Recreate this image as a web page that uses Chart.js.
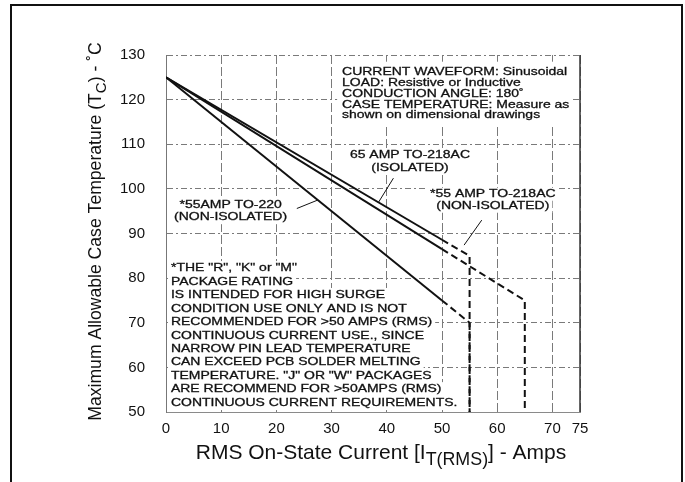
<!DOCTYPE html>
<html>
<head>
<meta charset="utf-8">
<title>Case temperature derating</title>
<script src="https://cdn.jsdelivr.net/npm/chart.js@4.4.1/dist/chart.umd.min.js"></script>
<style>
    html, body { margin: 0; padding: 0; background: #fff; }
    #wrap { position: relative; width: 685px; height: 482px; overflow: hidden; }
    #frame {
        position: absolute; left: 10px; top: 4px; width: 673px; height: 500px;
        border: 2px solid #111; box-sizing: border-box; pointer-events: none;
    }
</style>
</head>
<body>
<div id="wrap">
    <canvas id="derating-chart" width="685" height="482"></canvas>
    <div id="frame"></div>
</div>
<script>
// Curve break points
const to218IsoCurrent = [0, 50, 65, 65];
const to218IsoTemp = [125, 86.5, 75, 50];
const to218NonIsoCurrent = [0, 50, 55, 55];
const to218NonIsoTemp = [125, 88.6, 85, 50];
const to220Current = [0, 50, 55, 55];
const to220Temp = [125, 75, 70, 50];

// Above this current the curves are drawn dashed
const continuousLimit = 50;

const xTickValues = [0, 10, 20, 30, 40, 50, 60, 70, 75];
const yTickValues = [50, 60, 70, 80, 90, 100, 110, 120, 130];

const conditionsNote = [
    "CURRENT WAVEFORM: Sinusoidal",
    "LOAD: Resistive or Inductive",
    "CONDUCTION ANGLE: 180\u02DA",
    "CASE TEMPERATURE: Measure as",
    "shown on dimensional drawings",
];
const to218IsoLabel = ["65 AMP TO-218AC", "(ISOLATED)"];
const to218NonIsoLabel = ["*55 AMP TO-218AC", "(NON-ISOLATED)"];
const to220Label = ["*55AMP TO-220", "(NON-ISOLATED)"];
const packageNote = [
    "*THE \"R\", \"K\" or \"M\"",
    "PACKAGE RATING",
    "IS INTENDED FOR HIGH SURGE",
    "CONDITION USE ONLY AND IS NOT",
    "RECOMMENDED FOR >50 AMPS (RMS)",
    "CONTINUOUS CURRENT USE., SINCE",
    "NARROW PIN LEAD TEMPERATURE",
    "CAN EXCEED PCB SOLDER MELTING",
    "TEMPERATURE. \"J\" OR \"W\" PACKAGES",
    "ARE RECOMMEND FOR >50AMPS (RMS)",
    "CONTINUOUS CURRENT REQUIREMENTS.",
];

const FONT = "'Liberation Sans', Arial, Helvetica, sans-serif";
const INK = "#111";
const TEXT_STRETCH = 1.27;

function toPoints(xs, ys) {
    return xs.map((x, i) => ({ x: x, y: ys[i] }));
}

// each curve is solid up to the continuous limit, dashed after it
function curve(label, xs, ys) {
    const points = toPoints(xs, ys);
    const cut = xs.indexOf(continuousLimit);
    const base = {
        showLine: true,
        borderColor: INK,
        borderWidth: 2,
        pointRadius: 0,
        fill: false,
    };
    return [
        Object.assign({ label: label, data: points.slice(0, cut + 1) }, base),
        Object.assign({ label: label + " (surge)", data: points.slice(cut), borderDash: [7, 4] }, base),
    ];
}

// draws a block of stretched text lines on white boxes
function textBlock(ctx, lines, x, y, gap, align) {
    ctx.font = "11px " + FONT;
    ctx.textBaseline = "middle";
    lines.forEach((line, i) => {
        const w = ctx.measureText(line).width * TEXT_STRETCH;
        const left = align === "center" ? x - w / 2 : x;
        const ly = y + i * gap;
        ctx.fillStyle = "#fff";
        ctx.fillRect(left - 3, ly - gap / 2 - 0.5, w + 6, gap + 1);
        ctx.save();
        ctx.translate(left, ly);
        ctx.scale(TEXT_STRETCH, 1);
        ctx.fillStyle = INK;
        ctx.strokeStyle = INK;
        ctx.lineWidth = 0.3;
        ctx.textAlign = "left";
        ctx.fillText(line, 0, 0);
        ctx.strokeText(line, 0, 0);
        ctx.restore();
    });
}

// text made of parts, some of them subscript
function richText(ctx, parts, size) {
    let total = 0;
    parts.forEach(p => {
        ctx.font = (p.sub ? size * 0.85 : size) + "px " + FONT;
        p.w = ctx.measureText(p.t).width;
        total += p.w;
    });
    let x = -total / 2;
    ctx.fillStyle = INK;
    ctx.textBaseline = "alphabetic";
    ctx.textAlign = "left";
    parts.forEach(p => {
        ctx.font = (p.sub ? size * 0.85 : size) + "px " + FONT;
        ctx.fillText(p.t, x, p.sub ? size * 0.3 : 0);
        x += p.w;
    });
}

const annotationsPlugin = {
    id: "datasheetNotes",
    beforeDatasetsDraw(chart) {
        const ctx = chart.ctx;
        const xs = chart.scales.x;
        const ys = chart.scales.y;
        ctx.save();
        // white panel behind the test conditions
        ctx.fillStyle = "#fff";
        ctx.fillRect(xs.getPixelForValue(31), ys.getPixelForValue(128.5),
            xs.getPixelForValue(73.5) - xs.getPixelForValue(31),
            ys.getPixelForValue(114.5) - ys.getPixelForValue(128.5));
        textBlock(ctx, conditionsNote, xs.getPixelForValue(31.9), ys.getPixelForValue(126.1), 10.7, "left");
        textBlock(ctx, to218IsoLabel, xs.getPixelForValue(44.2), ys.getPixelForValue(107.6), 12.8, "center");
        textBlock(ctx, to218NonIsoLabel, xs.getPixelForValue(59.2), ys.getPixelForValue(98.8), 12, "center");
        textBlock(ctx, to220Label, xs.getPixelForValue(11.7), ys.getPixelForValue(96.4), 12.5, "center");
        textBlock(ctx, packageNote, xs.getPixelForValue(0.9), ys.getPixelForValue(82.2), 13.45, "left");
        ctx.restore();
    },
    afterDatasetsDraw(chart) {
        const ctx = chart.ctx;
        const xs = chart.scales.x;
        const ys = chart.scales.y;
        const area = chart.chartArea;
        ctx.save();
        // leader lines from labels to curves
        ctx.strokeStyle = INK;
        ctx.lineWidth = 1;
        [[41.2, 102.4, 38.5, 97.0], [57.2, 93.0, 54.0, 87.4], [23.7, 95.6, 27.5, 97.5]].forEach(l => {
            ctx.beginPath();
            ctx.moveTo(xs.getPixelForValue(l[0]), ys.getPixelForValue(l[1]));
            ctx.lineTo(xs.getPixelForValue(l[2]), ys.getPixelForValue(l[3]));
            ctx.stroke();
        });
        // right edge of the graph is a solid rule
        ctx.strokeStyle = "#333";
        ctx.lineWidth = 1.5;
        ctx.beginPath();
        ctx.moveTo(area.right, area.top);
        ctx.lineTo(area.right, area.bottom);
        ctx.stroke();
        ctx.restore();
    },
    afterDraw(chart) {
        const ctx = chart.ctx;
        const area = chart.chartArea;
        ctx.save();
        ctx.translate(101, (area.top + area.bottom) / 2 - 2);
        ctx.rotate(-Math.PI / 2);
        richText(ctx, [
            { t: "Maximum Allowable Case Temperature (T" },
            { t: "C", sub: true },
            { t: ") - \u02DAC" },
        ], 17.6);
        ctx.restore();

        ctx.save();
        ctx.translate(381, 459);
        richText(ctx, [
            { t: "RMS On-State Current [I" },
            { t: "T(RMS)", sub: true },
            { t: "] - Amps" },
        ], 21);
        ctx.restore();
    },
};

const chartCanvas = document.getElementById("derating-chart");

const deratingChart = new Chart(chartCanvas, {
    type: "scatter",
    data: {
        datasets: [].concat(
            curve("65 AMP TO-218AC (ISOLATED)", to218IsoCurrent, to218IsoTemp),
            curve("55 AMP TO-218AC (NON-ISOLATED)", to218NonIsoCurrent, to218NonIsoTemp),
            curve("55AMP TO-220 (NON-ISOLATED)", to220Current, to220Temp)
        ),
    },
    options: {
        responsive: false,
        animation: false,
        devicePixelRatio: 1,
        layout: {
            padding: { top: 55, right: 105, bottom: 0, left: 0 },
        },
        scales: {
            x: {
                type: "linear",
                min: 0,
                max: 75,
                afterBuildTicks: scale => {
                    scale.ticks = xTickValues.map(v => ({ value: v }));
                },
                afterFit: scale => {
                    scale.height = 70;
                },
                ticks: {
                    color: INK,
                    padding: 8,
                    maxRotation: 0,
                    font: { family: FONT, size: 15 },
                },
                grid: {
                    color: "#7a7a7a",
                    lineWidth: 1,
                    drawTicks: false,
                },
                border: {
                    display: true,
                    color: "#8a8a8a",
                    dash: [9, 3],
                },
            },
            y: {
                type: "linear",
                min: 50,
                max: 130,
                afterBuildTicks: scale => {
                    scale.ticks = yTickValues.map(v => ({ value: v }));
                },
                afterFit: scale => {
                    scale.width = 166;
                },
                ticks: {
                    color: INK,
                    padding: 21,
                    font: { family: FONT, size: 15 },
                },
                grid: {
                    color: "#7a7a7a",
                    lineWidth: 1,
                    drawTicks: false,
                },
                border: {
                    display: true,
                    color: "#777",
                    dash: [6, 3, 2, 3],
                },
            },
        },
        plugins: {
            legend: { display: false },
            title: { display: false },
            tooltip: { enabled: false },
        },
    },
    plugins: [annotationsPlugin],
});
</script>
</body>
</html>
